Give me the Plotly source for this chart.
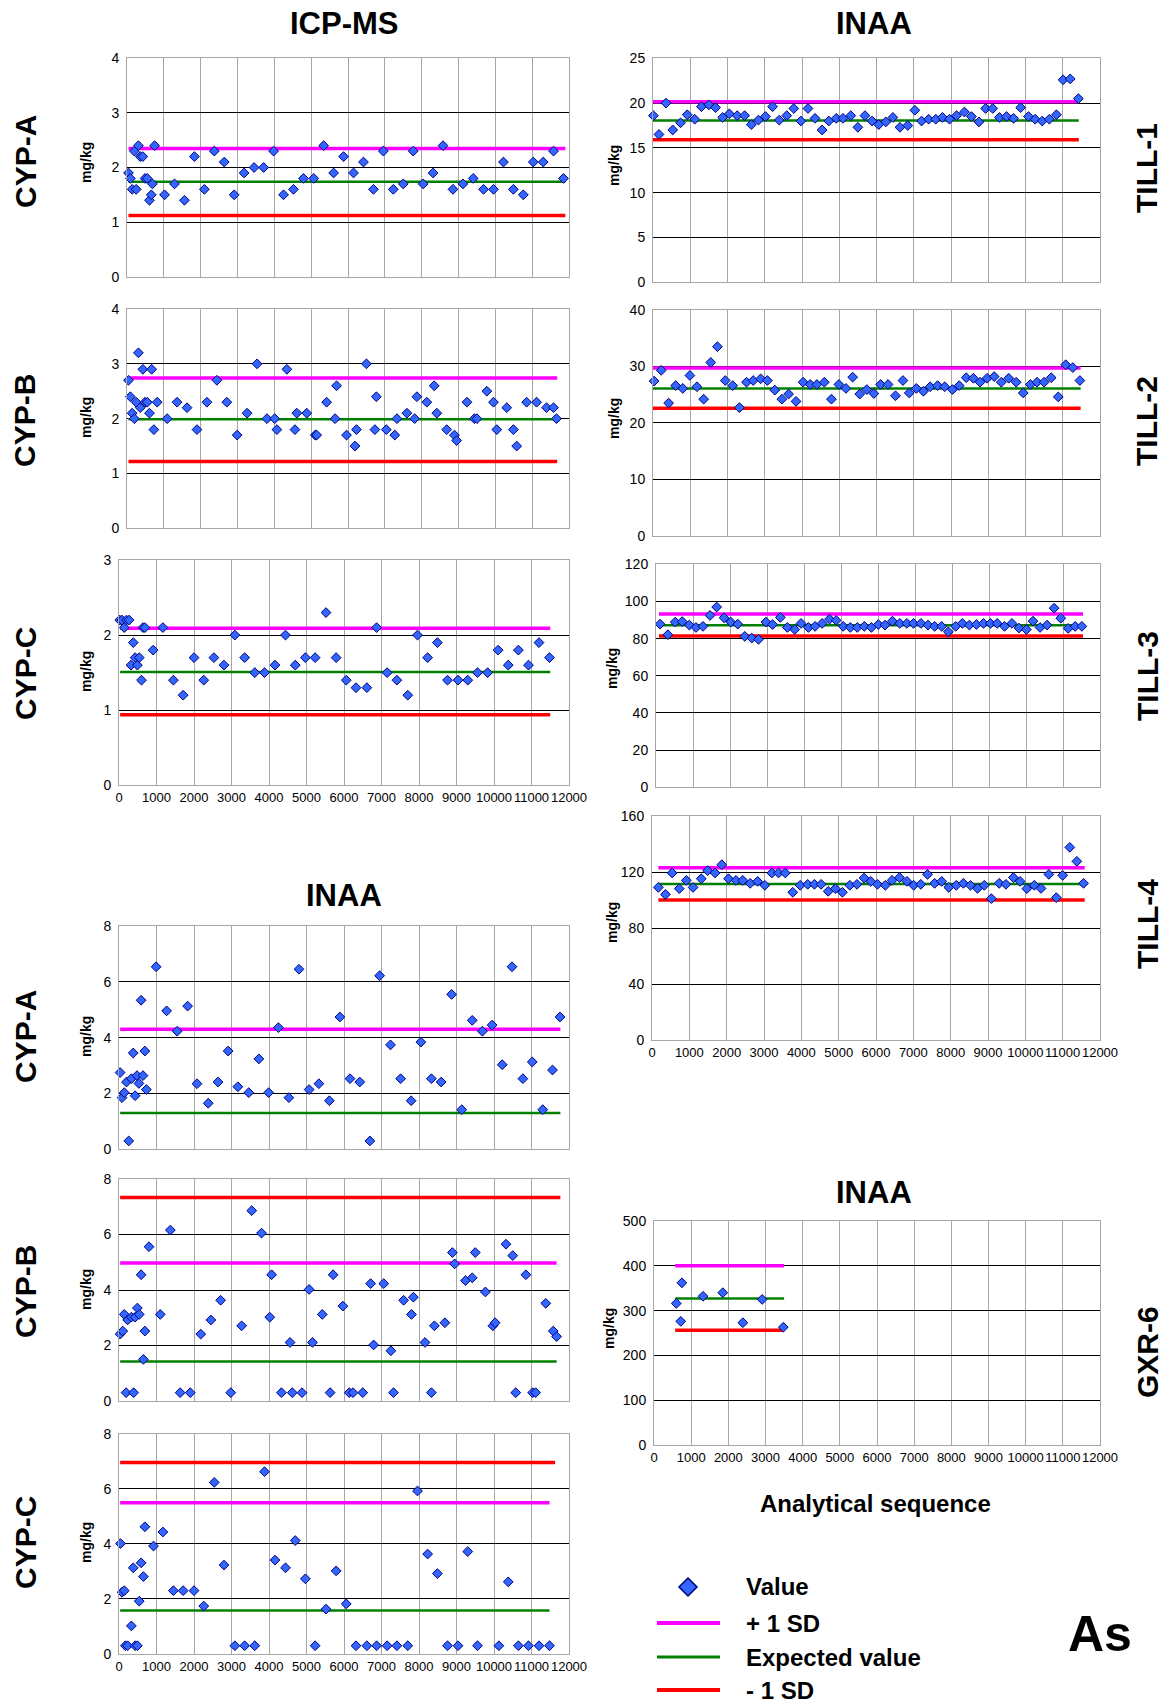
import plotly.graph_objects as go

W, H = 1167, 1706          # picture size == figure size (page margin removed below)
FONT = "Liberation Sans, Arial, Helvetica, sans-serif"

# ---------------- data ----------------
ICP_A_X = [40, 90, 140, 200, 250, 310, 360, 430, 490, 550, 610, 660, 690, 750, 1020, 1290, 1560, 1830, 2100, 2370,
           2640, 2910, 3180, 3450, 3710, 3980, 4250, 4520, 4790, 5070, 5340, 5610, 5880, 6150, 6420, 6690, 6960, 7230,
           7500, 7770, 8040, 8310, 8580, 8850, 9120, 9400, 9680, 9950, 10220, 10490, 10760, 11030, 11300, 11580, 11850]
ICP_A_Y = [1.9, 1.8, 1.6, 2.3, 1.6, 2.4, 2.2, 2.2, 1.8, 1.8, 1.4, 1.5, 1.7, 2.4, 1.5, 1.7, 1.4, 2.2, 1.6, 2.3,
           2.1, 1.5, 1.9, 2.0, 2.0, 2.3, 1.5, 1.6, 1.8, 1.8, 2.4, 1.9, 2.2, 1.9, 2.1, 1.6, 2.3, 1.6,
           1.7, 2.3, 1.7, 1.9, 2.4, 1.6, 1.7, 1.8, 1.6, 1.6, 2.1, 1.6, 1.5, 2.1, 2.1, 2.3, 1.8]
ICP_A_LEVELS = [2.35, 1.74, 1.12]
ICP_A_LX = [40, 11900]

ICP_B_X = [40, 90, 140, 200, 250, 310, 360, 430, 490, 550, 610, 670, 730, 820, 1090, 1360, 1630, 1900, 2170, 2440,
           2710, 2990, 3260, 3530, 3800, 4010, 4070, 4340, 4560, 4610, 4880, 5110, 5150, 5420, 5650, 5690, 5960, 6190,
           6230, 6500, 6730, 6770, 7040, 7270, 7330, 7600, 7810, 7870, 8140, 8340, 8410, 8680, 8890, 8950, 9230, 9430,
           9500, 9770, 9950, 10040, 10310, 10490, 10580, 10850, 11120, 11390, 11580, 11660]
ICP_B_Y = [2.7, 2.4, 2.1, 2.0, 2.3, 3.2, 2.2, 2.9, 2.3, 2.3, 2.1, 2.9, 1.8, 2.3, 2.0, 2.3, 2.2, 1.8, 2.3, 2.7,
           2.3, 1.7, 2.1, 3.0, 2.0, 2.0, 1.8, 2.9, 1.8, 2.1, 2.1, 1.7, 1.7, 2.3, 2.0, 2.6, 1.7, 1.5,
           1.8, 3.0, 1.8, 2.4, 1.8, 1.7, 2.0, 2.1, 2.0, 2.4, 2.3, 2.6, 2.1, 1.8, 1.7, 1.6, 2.3, 2.0,
           2.0, 2.5, 2.3, 1.8, 2.2, 1.8, 1.5, 2.3, 2.3, 2.2, 2.2, 2.0]
ICP_B_LEVELS = [2.74, 1.99, 1.22]
ICP_B_LX = [40, 11680]

ICP_C_X = [20, 80, 140, 200, 270, 320, 380, 430, 490, 540, 600, 640, 690, 910, 1170, 1450, 1710, 2000, 2260, 2530,
           2800, 3090, 3350, 3620, 3880, 4160, 4440, 4700, 4970, 5230, 5520, 5790, 6060, 6320, 6610, 6870, 7150,
           7410, 7700, 7960, 8230, 8490, 8760, 9040, 9300, 9560, 9830, 10110, 10380, 10650, 10920, 11200, 11480]
ICP_C_Y = [2.2, 2.2, 2.1, 2.2, 2.2, 1.6, 1.9, 1.7, 1.6, 1.7, 1.4, 2.1, 2.1, 1.8, 2.1, 1.4, 1.2, 1.7, 1.4, 1.7,
           1.6, 2.0, 1.7, 1.5, 1.5, 1.6, 2.0, 1.6, 1.7, 1.7, 2.3, 1.7, 1.4, 1.3, 1.3, 2.1, 1.5,
           1.4, 1.2, 2.0, 1.7, 1.9, 1.4, 1.4, 1.4, 1.5, 1.5, 1.8, 1.6, 1.8, 1.6, 1.9, 1.7]
ICP_C_LEVELS = [2.09, 1.51, 0.94]
ICP_C_LX = [30, 11500]

TILL1_X = [10, 160, 350, 530, 740, 920, 1120, 1300, 1500, 1680, 1870, 2050, 2260, 2460, 2640, 2830, 3020, 3210,
           3390, 3590, 3780, 3970, 4160, 4350, 4540, 4720, 4920, 5100, 5310, 5500, 5690, 5880, 6060, 6250, 6440,
           6630, 6840, 7030, 7210, 7400, 7590, 7770, 7960, 8150, 8360, 8550, 8750, 8930, 9120, 9300, 9490, 9680,
           9870, 10080, 10260, 10450, 10640, 10830, 11010, 11200, 11420]
TILL1_Y = [18.6, 16.5, 20.0, 17.0, 17.8, 18.7, 18.2, 19.6, 19.8, 19.5, 18.4, 18.8, 18.6, 18.6, 17.6, 18.1, 18.5, 19.6,
           18.1, 18.6, 19.4, 18.0, 19.4, 18.3, 17.0, 18.0, 18.3, 18.3, 18.6, 17.3, 18.6, 18.0, 17.6, 17.9, 18.4,
           17.3, 17.5, 19.2, 18.0, 18.2, 18.2, 18.4, 18.2, 18.6, 19.0, 18.5, 17.9, 19.4, 19.4, 18.4, 18.5, 18.3,
           19.5, 18.5, 18.2, 18.0, 18.2, 18.7, 22.6, 22.7, 20.5]
TILL1_LEVELS = [20.15, 18.05, 15.9]
TILL1_LX = [0, 11430]

TILL2_X = [30, 220, 420, 610, 800, 990, 1180, 1360, 1550, 1730, 1940, 2140, 2320, 2510, 2690, 2890, 3070, 3270,
           3460, 3640, 3840, 4030, 4220, 4400, 4600, 4790, 4990, 5180, 5360, 5550, 5740, 5930, 6110, 6310, 6510,
           6710, 6880, 7070, 7260, 7440, 7640, 7830, 8040, 8220, 8410, 8600, 8780, 8970, 9160, 9350, 9550, 9750,
           9940, 10130, 10310, 10500, 10690, 10880, 11080, 11270, 11460]
TILL2_Y = [27.4, 29.3, 23.5, 26.6, 26.1, 28.4, 26.4, 24.2, 30.7, 33.5, 27.5, 26.6, 22.7, 27.2, 27.5, 27.8, 27.5, 25.8,
           24.2, 25.1, 23.8, 27.2, 26.8, 26.8, 27.2, 24.2, 26.8, 26.1, 28.1, 25.1, 25.9, 25.2, 26.8, 26.8, 24.8,
           27.5, 25.3, 26.1, 25.6, 26.4, 26.6, 26.4, 25.9, 26.6, 28.0, 27.9, 27.2, 27.9, 28.2, 27.2, 27.9, 27.2,
           25.3, 26.8, 27.2, 27.2, 28.0, 24.6, 30.3, 29.8, 27.5]
TILL2_LEVELS = [29.7, 26.1, 22.6]
TILL2_LX = [0, 11480]

TILL3_X = [110, 320, 520, 710, 900, 1080, 1270, 1460, 1640, 1840, 2020, 2210, 2400, 2590, 2770, 2970, 3150, 3360,
           3550, 3750, 3920, 4120, 4300, 4490, 4690, 4870, 5060, 5250, 5440, 5630, 5820, 6010, 6190, 6390, 6590,
           6780, 6960, 7160, 7350, 7530, 7720, 7900, 8100, 8280, 8470, 8660, 8850, 9040, 9220, 9420, 9620, 9810,
           10010, 10190, 10380, 10570, 10760, 10940, 11140, 11330, 11510]
TILL3_Y = [87.8, 82.1, 88.9, 89.2, 87.3, 86.0, 86.6, 92.5, 97.0, 91.2, 88.9, 87.8, 81.2, 80.3, 79.6, 88.9, 87.6, 91.4,
           86.0, 84.9, 88.2, 86.0, 86.6, 88.2, 90.5, 89.8, 86.6, 86.0, 86.0, 86.6, 86.0, 87.6, 87.3, 89.4, 88.2,
           88.2, 88.2, 88.2, 87.3, 86.6, 86.6, 83.7, 86.6, 88.2, 87.3, 87.6, 88.2, 88.2, 88.2, 86.6, 88.2, 85.7,
           84.9, 89.4, 86.0, 87.3, 96.4, 91.0, 85.5, 86.6, 86.6]
TILL3_LEVELS = [93.3, 87.2, 81.4]
TILL3_LX = [80, 11540]

TILL4_X = [170, 360, 540, 730, 920, 1100, 1320, 1490, 1690, 1870, 2050, 2250, 2430, 2630, 2830, 3020, 3210, 3390,
           3570, 3770, 3970, 4170, 4350, 4530, 4720, 4910, 5100, 5300, 5490, 5680, 5860, 6040, 6250, 6430, 6630,
           6830, 7010, 7200, 7380, 7570, 7760, 7950, 8150, 8340, 8530, 8720, 8900, 9090, 9300, 9480, 9680, 9860,
           10040, 10240, 10420, 10630, 10830, 11000, 11190, 11380, 11560]
TILL4_Y = [109.0, 104.0, 119.3, 108.1, 114.0, 109.0, 115.2, 121.0, 119.3, 125.2, 115.2, 114.0, 114.0, 111.9, 113.3,
           110.5, 119.3, 119.3, 119.3, 105.5, 110.5, 111.2, 111.2, 111.2, 106.2, 108.1, 105.5, 110.5, 111.2, 115.7,
           113.3, 111.2, 110.5, 114.0, 116.0, 113.3, 110.5, 111.2, 118.3, 111.9, 113.3, 109.0, 110.5, 111.9, 110.5,
           108.3, 110.5, 101.0, 111.9, 111.2, 116.0, 113.3, 108.1, 110.5, 108.3, 118.3, 101.7, 117.6, 137.6, 127.6,
           111.9]
TILL4_LEVELS = [123.1, 111.4, 100.0]
TILL4_LX = [170, 11590]

INAA_A_X = [30, 80, 140, 200, 260, 330, 380, 430, 480, 530, 590, 640, 690, 730, 990, 1270, 1550, 1830, 2080, 2380,
            2640, 2910, 3170, 3460, 3730, 3990, 4250, 4530, 4800, 5070, 5330, 5610, 5890, 6160, 6420, 6690, 6950,
            7240, 7510, 7790, 8050, 8330, 8590, 8870, 9140, 9420, 9690, 9950, 10220, 10480, 10770, 11020, 11300,
            11560, 11760]
INAA_A_Y = [2.75, 1.85, 2.03, 2.41, 0.3, 2.53, 3.45, 1.92, 2.64, 2.36, 5.34, 2.64, 3.52, 2.14, 6.54, 4.96, 4.23, 5.13,
            2.35, 1.65, 2.41, 3.52, 2.24, 2.03, 3.24, 2.03, 4.36, 1.85, 6.45, 2.14, 2.35, 1.74, 4.74, 2.53, 2.41, 0.3,
            6.22, 3.74, 2.53, 1.74, 3.84, 2.53, 2.41, 5.55, 1.42, 4.62, 4.23, 4.45, 3.03, 6.54, 2.53, 3.13, 1.42,
            2.84, 4.74]
INAA_A_LEVELS = [4.3, 1.3, None]
INAA_A_LX = [30, 11770]

INAA_B_X = [30, 100, 140, 190, 230, 330, 390, 430, 490, 540, 590, 650, 690, 800, 1100, 1370, 1630, 1900, 2180, 2450,
            2710, 2980, 3270, 3540, 3800, 4020, 4070, 4330, 4560, 4620, 4880, 5070, 5160, 5420, 5630, 5710, 5970,
            6140, 6240, 6500, 6710, 6790, 7060, 7250, 7320, 7590, 7800, 7850, 8160, 8330, 8410, 8690, 8890, 8950,
            9240, 9420, 9500, 9770, 9970, 10030, 10320, 10500, 10580, 10850, 11030, 11110, 11380, 11580, 11670]
INAA_B_Y = [2.41, 2.52, 3.12, 0.3, 2.92, 3.02, 0.3, 3.02, 3.35, 3.12, 4.55, 1.5, 2.52, 5.56, 3.12, 6.16, 0.3, 0.3,
            2.41, 2.92, 3.63, 0.3, 2.71, 6.86, 6.05, 3.02, 4.55, 0.3, 2.11, 0.3, 0.3, 4.02, 2.11, 3.12, 0.3, 4.55,
            3.42, 0.3, 0.3, 0.3, 4.23, 2.02, 4.23, 1.81, 0.3, 3.63, 3.12, 3.74, 2.11, 0.3, 2.71, 2.82, 5.35, 4.94,
            4.34, 4.44, 5.35, 3.93, 2.71, 2.82, 5.65, 5.24, 0.3, 4.55, 0.3, 0.3, 3.52, 2.52, 2.32]
INAA_B_LEVELS = [4.97, 1.42, 7.33]
INAA_B_LX = [30, 11670]
INAA_B_LX_MINUS = [30, 11770]

INAA_C_X = [40, 80, 140, 170, 230, 330, 380, 430, 490, 540, 590, 650, 690, 920, 1170, 1450, 1710, 2000, 2260, 2540,
            2800, 3090, 3350, 3620, 3880, 4160, 4440, 4700, 4970, 5230, 5520, 5790, 6060, 6320, 6610, 6870, 7150,
            7410, 7700, 7960, 8230, 8490, 8760, 9040, 9300, 9560, 10130, 10380, 10650, 10920, 11200, 11480]
INAA_C_Y = [4.01, 2.24, 2.3, 0.3, 0.3, 1.02, 3.13, 0.3, 0.3, 1.92, 3.31, 2.81, 4.62, 3.92, 4.43, 2.3, 2.3, 2.3, 1.74,
            6.23, 3.23, 0.3, 0.3, 0.3, 6.62, 3.41, 3.13, 4.12, 2.73, 0.3, 1.63, 3.02, 1.82, 0.3, 0.3, 0.3, 0.3, 0.3,
            0.3, 5.92, 3.63, 2.92, 0.3, 0.3, 3.72, 0.3, 0.3, 2.62, 0.3, 0.3, 0.3, 0.3]
INAA_C_LEVELS = [5.49, 1.58, 6.95]
INAA_C_LX = [30, 11480]
INAA_C_LX_MINUS = [30, 11630]

GXR6_X = [600, 720, 750, 1320, 1850, 2390, 2910, 3480]
GXR6_Y = [316, 276, 362, 332, 340, 273, 325, 263]
GXR6_LEVELS = [400, 327, 256]
GXR6_LX = [570, 3500]

X_MAX = 12000
X_DTICK = 1000


def fx(px):
    return px / W


def fy(py):
    return 1 - py / H


# ---------------- panel layout (pixel boxes in picture: left, right, top, bottom) ----------------
PANELS = [
    dict(x=ICP_A_X, y=ICP_A_Y, lv=ICP_A_LEVELS, lx=ICP_A_LX, lxm=ICP_A_LX, ymax=4, dt=1,
         box=(127, 569, 58.3, 276.7), xlab=False),
    dict(x=ICP_B_X, y=ICP_B_Y, lv=ICP_B_LEVELS, lx=ICP_B_LX, lxm=ICP_B_LX, ymax=4, dt=1,
         box=(127, 569, 309, 528.3), xlab=False),
    dict(x=ICP_C_X, y=ICP_C_Y, lv=ICP_C_LEVELS, lx=ICP_C_LX, lxm=ICP_C_LX, ymax=3, dt=1,
         box=(119, 569, 560, 785.3), xlab=True),
    dict(x=INAA_A_X, y=INAA_A_Y, lv=INAA_A_LEVELS, lx=INAA_A_LX, lxm=INAA_A_LX, ymax=8, dt=2,
         box=(119, 569, 926, 1149.3), xlab=False),
    dict(x=INAA_B_X, y=INAA_B_Y, lv=INAA_B_LEVELS, lx=INAA_B_LX, lxm=INAA_B_LX_MINUS, ymax=8, dt=2,
         box=(119, 569, 1179, 1401), xlab=False),
    dict(x=INAA_C_X, y=INAA_C_Y, lv=INAA_C_LEVELS, lx=INAA_C_LX, lxm=INAA_C_LX_MINUS, ymax=8, dt=2,
         box=(119, 569, 1433.7, 1654), xlab=True),
    dict(x=TILL1_X, y=TILL1_Y, lv=TILL1_LEVELS, lx=TILL1_LX, lxm=TILL1_LX, ymax=25, dt=5,
         box=(653, 1100, 58.3, 282.3), xlab=False),
    dict(x=TILL2_X, y=TILL2_Y, lv=TILL2_LEVELS, lx=TILL2_LX, lxm=TILL2_LX, ymax=40, dt=10,
         box=(653, 1100, 310, 535.7), xlab=False),
    dict(x=TILL3_X, y=TILL3_Y, lv=TILL3_LEVELS, lx=TILL3_LX, lxm=TILL3_LX, ymax=120, dt=20,
         box=(656, 1100, 564.3, 787.3), xlab=False),
    dict(x=TILL4_X, y=TILL4_Y, lv=TILL4_LEVELS, lx=TILL4_LX, lxm=TILL4_LX, ymax=160, dt=40,
         box=(652, 1100, 816, 1040), xlab=True),
    dict(x=GXR6_X, y=GXR6_Y, lv=GXR6_LEVELS, lx=GXR6_LX, lxm=GXR6_LX, ymax=500, dt=100,
         box=(654, 1100, 1221, 1445), xlab=True),
]

MAGENTA, GREEN, RED = "#FF00FF", "#008000", "#FF0000"
GRAY = "#A6A6A6"

fig = go.Figure()
layout = dict(width=W, height=H, autosize=False, margin=dict(l=0, r=0, t=0, b=0),
              paper_bgcolor="white", plot_bgcolor="white", showlegend=False,
              font=dict(family=FONT, color="black"))

for i, p in enumerate(PANELS, start=1):
    xa = "x" if i == 1 else f"x{i}"
    ya = "y" if i == 1 else f"y{i}"
    plus, exp, minus = p["lv"]
    if plus is not None:
        fig.add_trace(go.Scatter(x=p["lx"], y=[plus, plus], mode="lines", xaxis=xa, yaxis=ya,
                                 line=dict(color=MAGENTA, width=3.5), hoverinfo="skip"))
    if exp is not None:
        fig.add_trace(go.Scatter(x=p["lx"], y=[exp, exp], mode="lines", xaxis=xa, yaxis=ya,
                                 line=dict(color=GREEN, width=2.5), hoverinfo="skip"))
    if minus is not None:
        fig.add_trace(go.Scatter(x=p["lxm"], y=[minus, minus], mode="lines", xaxis=xa, yaxis=ya,
                                 line=dict(color=RED, width=3.5), hoverinfo="skip"))
    fig.add_trace(go.Scatter(x=p["x"], y=p["y"], mode="markers", xaxis=xa, yaxis=ya, cliponaxis=False,
                             marker=dict(symbol="diamond", size=7.5, color="#3366FF",
                                         line=dict(color="#00007F", width=1))))
    l, r, t, b = p["box"]
    layout["xaxis" if i == 1 else f"xaxis{i}"] = dict(
        domain=[fx(l), fx(r)], anchor=ya, range=[0, X_MAX], tick0=0, dtick=X_DTICK, tickformat="d",
        showgrid=True, gridcolor=GRAY, gridwidth=1, zeroline=False, automargin=False,
        showline=True, linecolor=GRAY, linewidth=1, mirror=True, ticks="",
        showticklabels=p["xlab"], tickangle=0, tickfont=dict(size=13, family=FONT, color="black"),
        fixedrange=True)
    layout["yaxis" if i == 1 else f"yaxis{i}"] = dict(
        domain=[fy(b), fy(t)], anchor=xa, range=[0, p["ymax"]], tick0=0, dtick=p["dt"], tickformat="d",
        showgrid=True, gridcolor="#000000", gridwidth=1, zeroline=False, automargin=False,
        showline=True, linecolor=GRAY, linewidth=1, mirror=True, ticks="",
        ticklabelstandoff=4, tickfont=dict(size=14, family=FONT, color="black"), fixedrange=True)

ann = []


def text(s, x, y, size, angle=0, xanchor="center"):
    ann.append(dict(text=s, x=fx(x), y=fy(y), xref="paper", yref="paper", showarrow=False,
                    xanchor=xanchor, yanchor="middle", textangle=angle,
                    font=dict(family=FONT, size=size, color="black")))


# titles
text("<b>ICP-MS</b>", 344, 23, 31)
text("<b>INAA</b>", 874, 23, 31)
text("<b>INAA</b>", 344, 895, 31)
text("<b>INAA</b>", 874, 1192, 31)
text("<b>Analytical sequence</b>", 875, 1503, 24)

# row labels (left)
for s, yy in [("CYP-A", 162), ("CYP-B", 421), ("CYP-C", 674), ("CYP-A", 1037), ("CYP-B", 1292), ("CYP-C", 1543)]:
    text(f"<b>{s}</b>", 25, yy, 30, angle=-90)
# row labels (right)
for s, yy in [("TILL-1", 168), ("TILL-2", 421), ("TILL-3", 676), ("TILL-4", 924), ("GXR-6", 1352)]:
    text(f"<b>{s}</b>", 1147, yy, 30, angle=-90)
# unit labels
for yy in [163, 418, 672, 1037, 1290, 1543]:
    text("<b>mg/kg</b>", 86, yy, 14, angle=-90)
for xx, yy in [(614, 166), (614, 419), (612, 669), (612, 923), (609, 1329)]:
    text("<b>mg/kg</b>", xx, yy, 14, angle=-90)

# legend
LEG_ITEMS = ["Value", "+ 1 SD", "Expected value", "- 1 SD"]
LEG_Y = [1586, 1623, 1657, 1690]
for s, yy in zip(LEG_ITEMS, LEG_Y):
    text(f"<b>{s}</b>", 744, yy, 24, xanchor="left")
text("<b>As</b>", 1100, 1634, 50)

shapes = []
for col, yy, w in [(MAGENTA, 1623, 4), (GREEN, 1657, 3), (RED, 1690, 4)]:
    shapes.append(dict(type="line", xref="paper", yref="paper", x0=fx(657), x1=fx(720),
                       y0=fy(yy), y1=fy(yy), line=dict(color=col, width=w)))
cx, cy, hw = 688, 1587, 9
path = (f"M {fx(cx)},{fy(cy - hw)} L {fx(cx + hw)},{fy(cy)} "
        f"L {fx(cx)},{fy(cy + hw)} L {fx(cx - hw)},{fy(cy)} Z")
shapes.append(dict(type="path", xref="paper", yref="paper", path=path,
                   fillcolor="#3366FF", line=dict(color="#00007F", width=1.5)))

layout["annotations"] = ann
layout["shapes"] = shapes
fig.update_layout(**layout)

fig.write_html("out.html", config={"displayModeBar": False},
               post_script="document.body.style.margin='0';document.body.style.overflow='hidden';"
                           "document.documentElement.style.overflow='hidden';")
